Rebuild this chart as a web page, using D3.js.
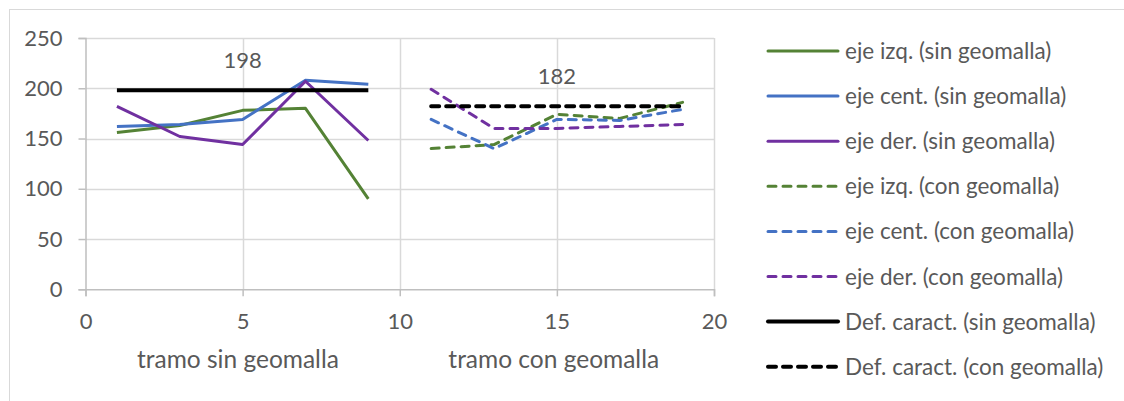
<!DOCTYPE html>
<html>
<head>
<meta charset="utf-8">
<script src="https://cdn.jsdelivr.net/npm/d3@7"></script>
<style>
  html, body { margin: 0; padding: 0; background: #fff; }
  svg { display: block; }
  text { font-family: Lato, "Open Sans", sans-serif; fill: #595959; }
</style>
</head>
<body>
<svg id="chart" width="1124" height="401"></svg>
<script>
// Tramo positions (x) for each measurement station
const xSin = [1, 3, 5, 7, 9];
const xCon = [11, 13, 15, 17, 19];

// Deflection values per axis
const izqSin  = [156, 163, 178, 180, 90];
const centSin = [162, 164, 169, 208, 204];
const derSin  = [182, 152, 144, 207, 148];
const izqCon  = [140, 144, 174, 170, 186];
const centCon = [169, 140, 169, 168, 179];
const derCon  = [199, 160, 160, 162, 164];

// Characteristic deflection for each section
const defSin = 198;
const defCon = 182;

const xTicks = [0, 5, 10, 15, 20];
const yTicks = [0, 50, 100, 150, 200, 250];
const axisTitles = ["tramo sin geomalla", "tramo con geomalla"];

const series = [
  { name: "eje izq. (sin geomalla)",  xs: xSin, ys: izqSin,  color: "#548235", dashed: false },
  { name: "eje cent. (sin geomalla)", xs: xSin, ys: centSin, color: "#4472c4", dashed: false },
  { name: "eje der. (sin geomalla)",  xs: xSin, ys: derSin,  color: "#7030a0", dashed: false },
  { name: "eje izq. (con geomalla)",  xs: xCon, ys: izqCon,  color: "#548235", dashed: true },
  { name: "eje cent. (con geomalla)", xs: xCon, ys: centCon, color: "#4472c4", dashed: true },
  { name: "eje der. (con geomalla)",  xs: xCon, ys: derCon,  color: "#7030a0", dashed: true },
  { name: "Def. caract. (sin geomalla)", xs: xSin, ys: xSin.map(() => defSin), color: "#000", dashed: false, thick: true, label: defSin },
  { name: "Def. caract. (con geomalla)", xs: xCon, ys: xCon.map(() => defCon), color: "#000", dashed: true, thick: true, label: defCon }
];

const svg = d3.select("#chart");

// outer chart frame
svg.append("rect")
  .attr("x", 9.5).attr("y", 9.5)
  .attr("width", 1130).attr("height", 400)
  .attr("fill", "none").attr("stroke", "#d9d9d9").attr("stroke-width", 1);

const plot = { left: 85.5, right: 714, top: 38, bottom: 289.3 };

const x = d3.scaleLinear().domain([0, 20]).range([plot.left, plot.right]);
const y = d3.scaleLinear().domain([0, 250]).range([plot.bottom, plot.top]);

// gridlines
const grid = svg.append("g");
grid.selectAll("line.h").data(yTicks.slice(1)).join("line")
  .attr("x1", plot.left).attr("x2", plot.right)
  .attr("y1", d => Math.round(y(d)) + 0.5).attr("y2", d => Math.round(y(d)) + 0.5)
  .attr("stroke", "#d9d9d9").attr("stroke-width", 1.5);
grid.selectAll("line.v").data(xTicks.slice(1)).join("line")
  .attr("y1", plot.top).attr("y2", plot.bottom)
  .attr("x1", d => Math.round(x(d)) + 0.5).attr("x2", d => Math.round(x(d)) + 0.5)
  .attr("stroke", "#d9d9d9").attr("stroke-width", 1.5);

// axes
const yAxis = d3.axisLeft(y).tickValues(yTicks).tickSize(7).tickPadding(16).tickFormat(d3.format("d"));
const gy = svg.append("g").attr("transform", `translate(${plot.left},0)`).call(yAxis);
const xAxis = d3.axisBottom(x).tickValues(xTicks).tickSize(7).tickPadding(17).tickFormat(d3.format("d"));
const gx = svg.append("g").attr("transform", `translate(0,${plot.bottom})`).call(xAxis);
[gx, gy].forEach(g => {
  g.select(".domain").attr("stroke", "#bfbfbf").attr("stroke-width", 1.5);
  g.selectAll(".tick line").attr("stroke", "#bfbfbf").attr("stroke-width", 1.5);
  g.selectAll(".tick text").attr("fill", "#595959").style("font-size", "22px")
    .style("font-family", "Lato, 'Open Sans', sans-serif");
});

// axis titles under each section
svg.selectAll("text.atitle").data(axisTitles).join("text")
  .attr("class", "atitle")
  .attr("x", (d, i) => i === 0 ? x(4.85) : x(14.9))
  .attr("y", 368)
  .attr("text-anchor", "middle")
  .style("font-size", "24.5px")
  .text(d => d);

// series lines
const line = d3.line().x(d => x(d[0])).y(d => y(d[1]));
const lines = svg.append("g");
series.forEach(s => {
  lines.append("path")
    .datum(s.xs.map((v, i) => [v, s.ys[i]]))
    .attr("d", line)
    .attr("fill", "none")
    .attr("stroke", s.color)
    .attr("stroke-width", s.thick ? 4 : 3)
    .attr("stroke-linejoin", "round")
    .attr("stroke-linecap", s.dashed ? "round" : "butt")
    .attr("stroke-dasharray", s.dashed ? "8,7" : null);
  if (s.label !== undefined) {
    lines.append("text")
      .attr("x", x(s.xs[2]))
      .attr("y", y(s.label) - 22)
      .attr("text-anchor", "middle")
      .style("font-size", "22px")
      .text(s.label);
  }
});

// legend
const legend = svg.append("g");
const rowY = i => 51 + i * 45.1;
series.forEach((s, i) => {
  legend.append("line")
    .attr("x1", 768).attr("x2", 838)
    .attr("y1", rowY(i)).attr("y2", rowY(i))
    .attr("stroke", s.color)
    .attr("stroke-width", s.thick ? 4 : 3)
    .attr("stroke-linecap", "round")
    .attr("stroke-dasharray", s.dashed ? "8,7" : null);
  legend.append("text")
    .attr("x", 845).attr("y", rowY(i) + 8)
    .style("font-size", "22.5px")
    .text(s.name);
});
</script>
</body>
</html>
